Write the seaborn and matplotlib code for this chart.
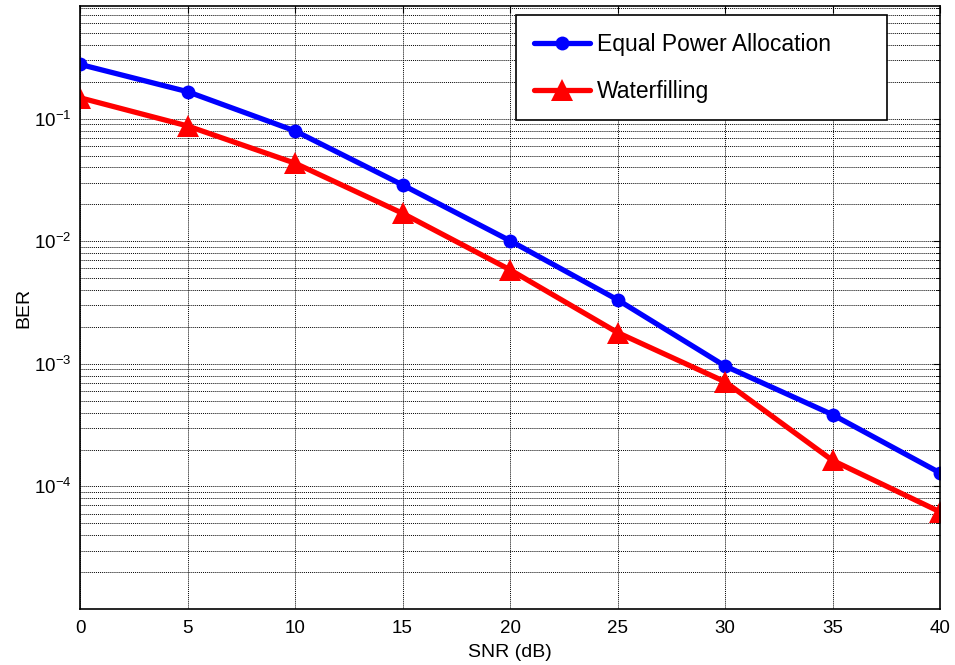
import numpy as np
import pandas as pd
import matplotlib
matplotlib.use("Agg")
import matplotlib.pyplot as plt
import seaborn as sns
from matplotlib.ticker import LogLocator, NullFormatter, FixedLocator, FuncFormatter

snr = [0, 5, 10, 15, 20, 25, 30, 35, 40]
ber_equal = [0.277, 0.166, 0.0794, 0.0288, 0.0101, 0.00333, 0.00096, 0.000385, 0.000129]
ber_water = [0.148, 0.0872, 0.0433, 0.0169, 0.00585, 0.0018, 0.000714, 0.000163, 0.000062]
series_names = ["Equal Power Allocation", "Waterfilling"]
x_ticks = [0, 5, 10, 15, 20, 25, 30, 35, 40]
y_ticks = [1e-4, 1e-3, 1e-2, 1e-1]

df = pd.DataFrame({
    "SNR": snr * 2,
    "BER": ber_equal + ber_water,
    "Scheme": [series_names[0]] * len(snr) + [series_names[1]] * len(snr),
})

sns.set_style("white")
plt.rcParams['font.family'] = ['Liberation Sans', 'DejaVu Sans']
plt.rcParams['mathtext.fontset'] = 'custom'
plt.rcParams['mathtext.rm'] = 'Liberation Sans'
plt.rcParams['mathtext.it'] = 'Liberation Sans'
plt.rcParams['mathtext.default'] = 'regular'
plt.rcParams['text.color'] = 'black'
plt.rcParams['axes.labelcolor'] = 'black'

fig = plt.figure(figsize=(9.55, 6.65), dpi=100)
ax = fig.add_axes([0.0838, 0.0842, 0.9005, 0.9068])

sns.lineplot(data=df, x="SNR", y="BER", hue="Scheme", style="Scheme",
             palette={series_names[0]: "#0000FF", series_names[1]: "#FF0000"},
             markers={series_names[0]: "o", series_names[1]: "^"},
             dashes=False, linewidth=3.8, ax=ax, legend=True)
for line, ms in zip(ax.lines, [10, 16]):
    line.set_markersize(ms)
    line.set_markeredgewidth(0)

ax.set_yscale("log")
ax.set_xlim(0, 40)
ax.set_ylim(1e-5, 10 ** -0.081)
ax.xaxis.set_major_locator(FixedLocator(x_ticks))
ax.yaxis.set_major_locator(FixedLocator(y_ticks))
ax.yaxis.set_major_formatter(FuncFormatter(lambda v, p: r"$10^{%d}$" % int(round(np.log10(v)))))
ax.yaxis.set_minor_locator(LogLocator(base=10, subs=np.arange(2, 10), numticks=20))
ax.yaxis.set_minor_formatter(NullFormatter())

ax.grid(True, which="major", color="black", linestyle=(0, (1, 1)), linewidth=0.7)
ax.grid(True, which="minor", axis="y", color="black", linestyle=(0, (1, 1)), linewidth=0.7)
ax.set_axisbelow(True)

for s in ax.spines.values():
    s.set_color("black")
    s.set_linewidth(1.2)

ax.tick_params(axis="both", which="both", direction="in", colors="black", labelsize=13.5,
               top=True, right=True, length=5)
ax.tick_params(axis="x", which="major", pad=8)
ax.tick_params(axis="y", which="major", pad=6)
ax.tick_params(axis="both", which="minor", length=3)
ax.set_xlabel("SNR (dB)", fontsize=14, labelpad=5)
ax.set_ylabel("BER", fontsize=14, labelpad=1)

handles, labels = ax.get_legend_handles_labels()
leg = ax.legend(handles, labels, loc="upper left",
                bbox_to_anchor=(0.507, 0.816, 0.431, 0.1696), mode="expand",
                borderaxespad=0, fontsize=16.5, frameon=True, fancybox=False,
                edgecolor="black", framealpha=1, handlelength=2.45, handletextpad=0.3,
                labelspacing=1.05, borderpad=0.78)
leg.get_frame().set_linewidth(1.2)
for lh, ms in zip(leg.get_lines(), [10, 16]):
    lh.set_linewidth(3.8)
    lh.set_markersize(ms)
    lh.set_markeredgewidth(0)

fig.savefig("out.png", dpi=100)
